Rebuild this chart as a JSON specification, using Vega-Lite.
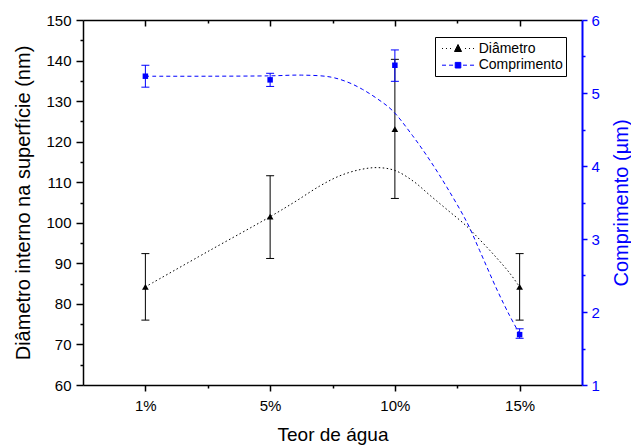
{
  "$schema": "https://vega.github.io/schema/vega-lite/v6.json",
  "width": 499,
  "height": 365,
  "autosize": "none",
  "padding": {"left": 83, "top": 20, "right": 49, "bottom": 62},
  "background": "white",
  "config": {
    "font": "Liberation Sans",
    "view": {"stroke": null},
    "axis": {
      "grid": false,
      "domainColor": "black",
      "tickColor": "black",
      "labelColor": "black",
      "titleColor": "black",
      "labelFont": "Liberation Sans",
      "titleFont": "Liberation Sans",
      "titleFontWeight": "normal",
      "labelFontSize": 15,
      "titleFontSize": 20,
      "domainWidth": 1.5,
      "tickWidth": 1.5
    }
  },
  "datasets": {
    "diam": [
      {"pos": 0, "v": 84.2, "lo": 76.0, "hi": 92.4},
      {"pos": 1, "v": 101.5, "lo": 91.2, "hi": 111.6},
      {"pos": 2, "v": 123.1, "lo": 106.0, "hi": 140.3},
      {"pos": 3, "v": 84.2, "lo": 76.0, "hi": 92.4}
    ],
    "comp": [
      {"pos": 0, "v": 5.23, "lo": 5.08, "hi": 5.38},
      {"pos": 1, "v": 5.18, "lo": 5.09, "hi": 5.27},
      {"pos": 2, "v": 5.38, "lo": 5.16, "hi": 5.59},
      {"pos": 3, "v": 1.69, "lo": 1.64, "hi": 1.77}
    ],
    "diamFit": [
      {"pos": 0, "v": 84.2},
      {"pos": 0.5, "v": 92.9},
      {"pos": 1.0, "v": 101.5},
      {"pos": 1.2, "v": 105.2},
      {"pos": 1.4, "v": 109.1},
      {"pos": 1.56, "v": 111.6},
      {"pos": 1.72, "v": 113.1},
      {"pos": 1.86, "v": 113.6},
      {"pos": 2.0, "v": 112.9},
      {"pos": 2.15, "v": 110.2},
      {"pos": 2.28, "v": 106.8},
      {"pos": 2.42, "v": 103.2},
      {"pos": 2.57, "v": 99.3},
      {"pos": 2.7, "v": 95.2},
      {"pos": 2.82, "v": 91.2},
      {"pos": 2.92, "v": 87.6},
      {"pos": 3.0, "v": 84.2}
    ],
    "compFit": [
      {"pos": 0, "v": 5.23},
      {"pos": 0.5, "v": 5.23},
      {"pos": 1.0, "v": 5.235},
      {"pos": 1.25, "v": 5.245},
      {"pos": 1.48, "v": 5.22},
      {"pos": 1.62, "v": 5.15},
      {"pos": 1.74, "v": 5.05},
      {"pos": 1.86, "v": 4.92},
      {"pos": 1.98, "v": 4.76},
      {"pos": 2.14, "v": 4.42},
      {"pos": 2.28, "v": 4.08},
      {"pos": 2.42, "v": 3.70},
      {"pos": 2.58, "v": 3.22},
      {"pos": 2.68, "v": 2.84},
      {"pos": 2.82, "v": 2.30},
      {"pos": 2.92, "v": 1.95},
      {"pos": 3.0, "v": 1.70}
    ],
    "series": [{"s": "Diâmetro"}, {"s": "Comprimento"}]
  },
  "layer": [
    {
      "layer": [
        {
          "data": {"name": "diamFit"},
          "mark": {"type": "line", "color": "black", "strokeWidth": 1, "strokeDash": [1.5, 2.5], "interpolate": "catmull-rom"},
          "encoding": {
            "x": {"field": "pos", "type": "quantitative", "scale": {"domain": [-0.5, 3.5], "nice": false, "zero": false},
              "axis": {"orient": "bottom", "values": [0, 1, 2, 3], "labelExpr": "['1%','5%','10%','15%'][datum.value]", "tickSize": 6, "labelPadding": 7, "title": "Teor de água", "titleFontSize": 19, "titlePadding": 12}},
            "y": {"field": "v", "type": "quantitative", "scale": {"domain": [60, 150], "nice": false, "zero": false},
              "axis": {"orient": "left", "values": [60, 70, 80, 90, 100, 110, 120, 130, 140, 150], "tickSize": 7, "labelPadding": 5, "title": "Diâmetro interno na superfície (nm)", "titlePadding": 12}}
          }
        },
        {
          "data": {"name": "diam"},
          "mark": {"type": "rule", "color": "black", "strokeWidth": 1},
          "encoding": {
            "x": {"field": "pos", "type": "quantitative", "scale": {"domain": [-0.5, 3.5], "nice": false, "zero": false},
              "axis": {"orient": "bottom", "values": [0.5, 1.5, 2.5], "tickSize": 3, "labels": false, "domain": false, "title": null}},
            "y": {"field": "lo", "type": "quantitative", "scale": {"domain": [60, 150], "nice": false, "zero": false},
              "axis": {"orient": "left", "values": [65, 75, 85, 95, 105, 115, 125, 135, 145], "tickSize": 3, "labels": false, "domain": false, "title": null}},
            "y2": {"field": "hi"}
          }
        },
        {
          "data": {"name": "diam"},
          "mark": {"type": "tick", "orient": "horizontal", "color": "black", "size": 8, "thickness": 1, "opacity": 1},
          "encoding": {
            "x": {"field": "pos", "type": "quantitative", "axis": null},
            "y": {"field": "lo", "type": "quantitative", "scale": {"domain": [60, 150], "nice": false, "zero": false}, "axis": null}
          }
        },
        {
          "data": {"name": "diam"},
          "mark": {"type": "tick", "orient": "horizontal", "color": "black", "size": 8, "thickness": 1, "opacity": 1},
          "encoding": {
            "x": {"field": "pos", "type": "quantitative", "axis": null},
            "y": {"field": "hi", "type": "quantitative", "scale": {"domain": [60, 150], "nice": false, "zero": false}, "axis": null}
          }
        },
        {
          "data": {"name": "diam"},
          "mark": {"type": "point", "shape": "triangle-up", "filled": true, "color": "black", "size": 45, "opacity": 1},
          "encoding": {
            "x": {"field": "pos", "type": "quantitative", "axis": null},
            "y": {"field": "v", "type": "quantitative", "scale": {"domain": [60, 150], "nice": false, "zero": false}, "axis": null}
          }
        }
      ],
      "resolve": {"axis": {"x": "independent", "y": "independent"}}
    },
    {
      "layer": [
        {
          "data": {"name": "compFit"},
          "mark": {"type": "line", "color": "#0000ff", "strokeWidth": 1, "strokeDash": [4, 3], "interpolate": "catmull-rom"},
          "encoding": {
            "x": {"field": "pos", "type": "quantitative", "scale": {"domain": [-0.5, 3.5], "nice": false, "zero": false},
              "axis": {"orient": "top", "values": [0, 1, 2, 3], "tickSize": -6, "labels": false, "title": null}},
            "y": {"field": "v", "type": "quantitative", "scale": {"domain": [1, 6], "nice": false, "zero": false},
              "axis": {"orient": "right", "values": [1, 2, 3, 4, 5, 6], "tickSize": 5, "labelPadding": 4, "domainColor": "#0000ff", "tickColor": "#0000ff", "labelColor": "#0000ff", "titleColor": "#0000ff", "domainWidth": 2, "title": "Comprimento (µm)", "titleAngle": 270, "titleBaseline": "top", "titlePadding": 12}}
          }
        },
        {
          "data": {"name": "comp"},
          "mark": {"type": "rule", "color": "#0000ff", "strokeWidth": 1},
          "encoding": {
            "x": {"field": "pos", "type": "quantitative", "scale": {"domain": [-0.5, 3.5], "nice": false, "zero": false},
              "axis": {"orient": "top", "values": [0.5, 1.5, 2.5], "tickSize": -3, "labels": false, "domain": false, "title": null}},
            "y": {"field": "lo", "type": "quantitative", "scale": {"domain": [1, 6], "nice": false, "zero": false},
              "axis": {"orient": "right", "values": [1.5, 2.5, 3.5, 4.5, 5.5], "tickSize": 3, "tickColor": "#0000ff", "labels": false, "domain": false, "title": null}},
            "y2": {"field": "hi"}
          }
        },
        {
          "data": {"name": "comp"},
          "mark": {"type": "tick", "orient": "horizontal", "color": "#0000ff", "size": 8, "thickness": 1, "opacity": 1},
          "encoding": {
            "x": {"field": "pos", "type": "quantitative", "axis": null},
            "y": {"field": "lo", "type": "quantitative", "scale": {"domain": [1, 6], "nice": false, "zero": false}, "axis": null}
          }
        },
        {
          "data": {"name": "comp"},
          "mark": {"type": "tick", "orient": "horizontal", "color": "#0000ff", "size": 8, "thickness": 1, "opacity": 1},
          "encoding": {
            "x": {"field": "pos", "type": "quantitative", "axis": null},
            "y": {"field": "hi", "type": "quantitative", "scale": {"domain": [1, 6], "nice": false, "zero": false}, "axis": null}
          }
        },
        {
          "data": {"name": "comp"},
          "mark": {"type": "point", "shape": "square", "filled": true, "color": "#0000ff", "size": 30, "opacity": 1},
          "encoding": {
            "x": {"field": "pos", "type": "quantitative", "axis": null},
            "y": {"field": "v", "type": "quantitative", "scale": {"domain": [1, 6], "nice": false, "zero": false}, "axis": null}
          }
        }
      ],
      "resolve": {"axis": {"x": "independent", "y": "independent"}}
    },
    {
      "data": {"name": "series"},
      "transform": [{"filter": "false"}],
      "mark": {"type": "point", "filled": true, "size": 256, "opacity": 1, "strokeWidth": 1},
      "encoding": {
        "fill": {"field": "s", "type": "nominal", "scale": {"domain": ["Diâmetro", "Comprimento"], "range": ["black", "#0000ff"]},
          "legend": {"title": null, "orient": "none", "legendX": 352, "legendY": 17, "strokeColor": "black", "fillColor": "white", "padding": 3, "labelFontSize": 14, "labelFont": "Liberation Sans", "labelColor": "black", "symbolSize": 256, "symbolStrokeWidth": 1, "labelOffset": 23.7, "rowPadding": 0.7}},
        "stroke": {"field": "s", "type": "nominal", "scale": {"domain": ["Diâmetro", "Comprimento"], "range": ["black", "#0000ff"]},
          "legend": {"title": null, "orient": "none", "legendX": 352, "legendY": 17, "strokeColor": "black", "fillColor": "white", "padding": 3, "labelFontSize": 14, "labelFont": "Liberation Sans", "labelColor": "black", "symbolSize": 256, "symbolStrokeWidth": 1, "labelOffset": 23.7, "rowPadding": 0.7}},
        "shape": {"field": "s", "type": "nominal", "scale": {"domain": ["Diâmetro", "Comprimento"], "range": [
          "M-0.56,0H-0.44M-0.06,0H0.06M0.44,0H0.56M1.44,-0.5L1.88,0.375L1.0,0.375ZM2.32,0H2.44M2.82,0H2.94M3.32,0H3.44",
          "M-0.56,0H-0.06M0.32,0H0.82M1.09,-0.35H1.79V0.35H1.09ZM2.06,0H2.56M2.94,0H3.44"]},
          "legend": {"title": null, "orient": "none", "legendX": 352, "legendY": 17, "strokeColor": "black", "fillColor": "white", "padding": 3, "labelFontSize": 14, "labelFont": "Liberation Sans", "labelColor": "black", "symbolSize": 256, "symbolStrokeWidth": 1, "labelOffset": 23.7, "rowPadding": 0.7}}
      }
    }
  ],
  "resolve": {"scale": {"y": "independent"}, "axis": {"x": "independent", "y": "independent"}}
}
